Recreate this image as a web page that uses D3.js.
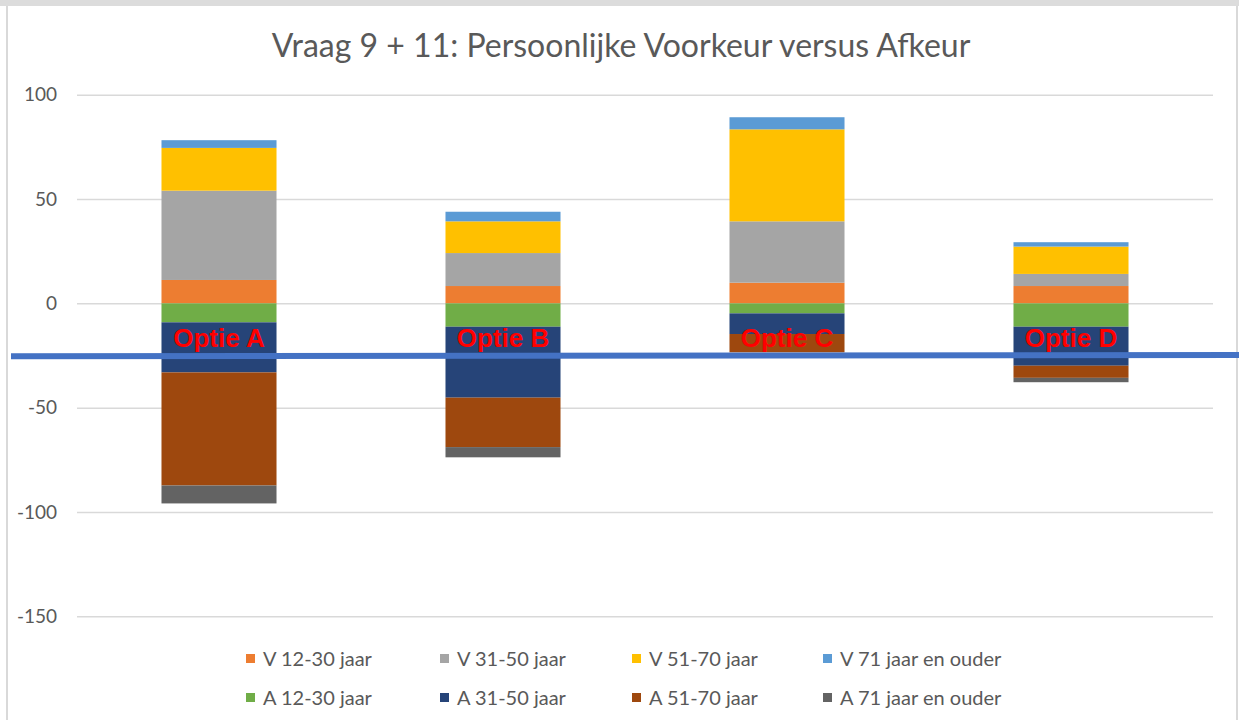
<!DOCTYPE html>
<html>
<head>
<meta charset="utf-8">
<script src="https://cdn.jsdelivr.net/npm/d3@7"></script>
<style>
  body { margin: 0; background: #fff; }
</style>
</head>
<body>
<div id="chart"></div>
<script>
// categories
var opties = ["Optie A", "Optie B", "Optie C", "Optie D"];

// series (V = voorkeur, A = afkeur)
var seriesNames = ["V 12-30 jaar", "V 31-50 jaar", "V 51-70 jaar", "V 71 jaar en ouder",
                   "A 12-30 jaar", "A 31-50 jaar", "A 51-70 jaar", "A 71 jaar en ouder"];
var seriesColors = ["#ED7D31", "#A5A5A5", "#FFC000", "#5B9BD5",
                    "#70AD47", "#264478", "#9E480E", "#636363"];

var v1230 = [11.2, 8.3, 9.9, 8.3];
var v3150 = [42.8, 15.8, 29.4, 5.8];
var v5170 = [20.5, 15.2, 44.1, 13.1];
var v71   = [3.7, 4.6, 5.8, 2.1];
var a1230 = [-9.1, -11.2, -4.8, -11.2];
var a3150 = [-24.0, -34.0, -9.9, -18.7];
var a5170 = [-54.2, -23.7, -8.8, -5.8];
var a71   = [-8.6, -4.9, 0, -2.1];

var yTicks = [100, 50, 0, -50, -100, -150];

// hand drawn blue line over the chart (value at left and right edge)
var lijnWaarden = [-25.4, -24.8];

var svgWidth = 1239;
var svgHeight = 720;

var plot = { left: 77, right: 1213, top: 94.7, bottom: 616.3 };
var baseFont = "Lato, 'Open Sans', sans-serif";

var svg = d3.select("#chart")
  .append("svg")
  .attr("width", svgWidth)
  .attr("height", svgHeight)
  .style("font-family", baseFont);

svg.append("rect")
  .attr("width", svgWidth)
  .attr("height", svgHeight)
  .attr("fill", "#fff");

// chart frame
svg.append("rect")
  .attr("x", 0).attr("y", 0)
  .attr("width", svgWidth).attr("height", 6)
  .attr("fill", "#dcdcdc");
svg.append("line")
  .attr("x1", 7).attr("x2", 7).attr("y1", 6).attr("y2", svgHeight)
  .attr("stroke", "#d9d9d9").attr("stroke-width", 2);
svg.append("line")
  .attr("x1", 1237).attr("x2", 1237).attr("y1", 6).attr("y2", svgHeight)
  .attr("stroke", "#d9d9d9").attr("stroke-width", 2);

// build rows for the stack
var allSeries = [v1230, v3150, v5170, v71, a1230, a3150, a5170, a71];
var rows = opties.map(function(o, i) {
  var r = { optie: o };
  seriesNames.forEach(function(s, j) { r[s] = allSeries[j][i]; });
  return r;
});

var stacked = d3.stack()
  .keys(seriesNames)
  .offset(d3.stackOffsetDiverging)(rows);

var x = d3.scaleBand()
  .domain(opties)
  .range([plot.left, plot.right])
  .paddingInner(0.595)
  .paddingOuter(0.2975);

var y = d3.scaleLinear()
  .domain([-150, 100])
  .range([plot.bottom, plot.top]);

var color = d3.scaleOrdinal().domain(seriesNames).range(seriesColors);

// gridlines + tick labels
var yAxis = svg.append("g")
  .attr("transform", `translate(${plot.left}, 0)`)
  .call(d3.axisLeft(y)
    .tickValues(yTicks)
    .tickSize(-(plot.right - plot.left))
    .tickPadding(20)
    .tickFormat(d => String(d)));
yAxis.select(".domain").remove();
yAxis.selectAll(".tick line")
  .attr("stroke", "#d9d9d9")
  .attr("stroke-width", 1.5);
yAxis.selectAll(".tick text")
  .attr("fill", "#595959")
  .style("font-family", baseFont)
  .style("font-size", "19px");

// bars
svg.append("g").selectAll("g")
  .data(stacked)
  .enter()
  .append("g")
  .attr("fill", d => color(d.key))
  .selectAll("rect")
  .data(d => d)
  .enter()
  .append("rect")
  .attr("x", d => x(d.data.optie))
  .attr("width", x.bandwidth())
  .attr("y", d => y(Math.max(d[0], d[1])))
  .attr("height", d => Math.abs(y(d[0]) - y(d[1])));

// category labels in red
svg.append("g").selectAll("text")
  .data(opties)
  .enter()
  .append("text")
  .attr("x", d => x(d) + x.bandwidth() / 2)
  .attr("y", y(0) + 44)
  .attr("text-anchor", "middle")
  .attr("fill", "#ff0000")
  .style("font-family", "'Liberation Sans', Arial, sans-serif")
  .style("font-weight", "bold")
  .style("font-size", "26px")
  .text(d => d);

// blue line across
svg.append("line")
  .attr("x1", 11)
  .attr("x2", svgWidth)
  .attr("y1", y(lijnWaarden[0]))
  .attr("y2", y(lijnWaarden[1]))
  .attr("stroke", "#4472C4")
  .attr("stroke-width", 6);

// title
svg.append("text")
  .attr("x", 621)
  .attr("y", 57)
  .attr("text-anchor", "middle")
  .attr("fill", "#595959")
  .style("font-size", "32px")
  .text("Vraag 9 + 11: Persoonlijke Voorkeur versus Afkeur");

// legend
var legendX = [246, 440, 632, 823];
var legendY = [659, 698];
var legend = svg.append("g").selectAll("g")
  .data(seriesNames)
  .enter()
  .append("g")
  .attr("transform", (d, i) => `translate(${legendX[i % 4]}, ${legendY[Math.floor(i / 4)]})`);

legend.append("rect")
  .attr("x", 0)
  .attr("y", -5)
  .attr("width", 9)
  .attr("height", 9)
  .attr("fill", d => color(d));

legend.append("text")
  .attr("x", 17)
  .attr("y", 0)
  .attr("dy", "0.35em")
  .attr("fill", "#595959")
  .style("font-size", "20px")
  .text(d => d);
</script>
</body>
</html>
